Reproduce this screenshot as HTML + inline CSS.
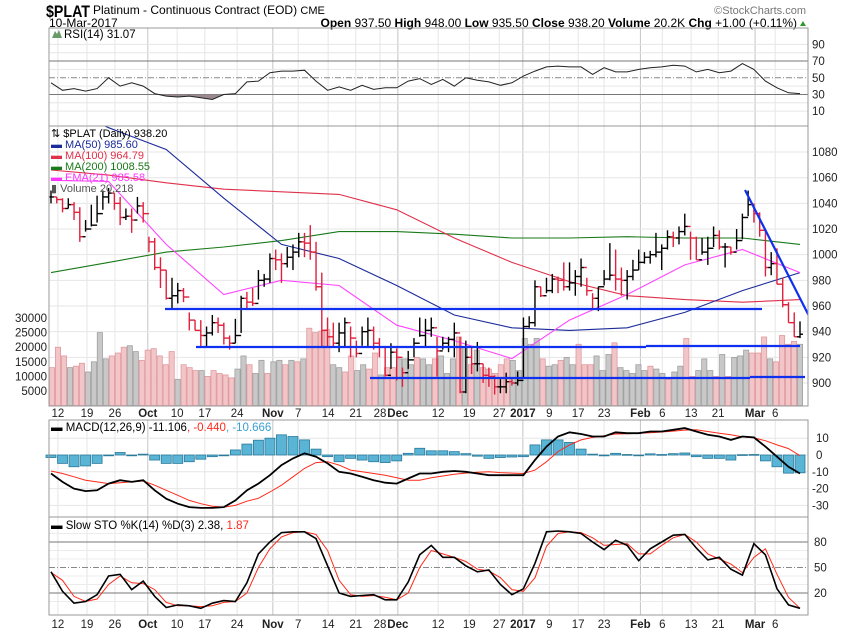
<!DOCTYPE html>
<html><head><meta charset="utf-8">
<style>
html,body{margin:0;padding:0;background:#fff;}
svg{display:block;font-family:"Liberation Sans",sans-serif;}
</style></head>
<body>
<svg id="chart" width="850" height="633" viewBox="0 0 850 633" xmlns="http://www.w3.org/2000/svg">
  <rect x="0" y="0" width="850" height="633" fill="#fff"/>
  <g>
    <text x="46" y="17" font-size="17" font-weight="bold" fill="#000" textLength="44" lengthAdjust="spacingAndGlyphs">$PLAT</text>
    <text x="93" y="14" font-size="12" fill="#000">Platinum - Continuous Contract (EOD) <tspan font-size="11">CME</tspan></text>
    <text x="49" y="27" font-size="12" fill="#000">10-Mar-2017</text>
    <text x="806" y="14" font-size="11" fill="#777" text-anchor="end">©StockCharts.com</text>
    <text x="797" y="27" font-size="12" fill="#000" text-anchor="end"><tspan font-weight="bold">Open</tspan> 937.50 <tspan font-weight="bold">High</tspan> 948.00 <tspan font-weight="bold">Low</tspan> 935.50 <tspan font-weight="bold">Close</tspan> 938.20 <tspan font-weight="bold">Volume</tspan> 20.2K <tspan font-weight="bold">Chg</tspan> +1.00 (+0.11%)</text>
    <polygon points="800,26 806,26 803,21" fill="#2a9a2a"/>
  </g>
  <g id="grid"></g>
  <g id="rsi"></g>
  <g id="price"></g>
  <g id="macd"></g>
  <g id="sto"></g>
  <g id="axes"></g>
</svg>
<script>
// ---------- DATA ----------
const hi = [1050,1045,1044,1044,1041,1037,1027,1039,1046,1050,1052,1048,1045,1036,1036,1045,1041,1014,1013,998,988,982,978,974,955,949,949,944,953,951,947,937,950,968,971,974,988,985,1001,1004,1001,1006,1008,1017,1017,1023,1010,986,951,947,947,951,944,933,944,951,944,935,928,931,927,912,925,935,951,950,951,936,936,936,947,936,933,928,932,915,912,906,903,908,903,909,951,952,980,975,982,985,983,994,994,988,997,982,970,975,988,1009,1004,990,988,996,1004,1002,1003,1017,1008,1019,1018,1022,1032,1018,1014,1013,1014,1022,1019,1009,1006,1020,1032,1050,1040,1033,1019,1002,1005,982,963,955,948];
const lo = [1040,1040,1033,1036,1027,1010,1018,1022,1025,1035,1040,1035,1023,1027,1017,1032,1025,1002,988,974,965,958,962,963,941,941,928,928,937,939,930,926,931,939,958,960,965,975,978,988,978,990,988,998,998,996,972,928,928,928,924,928,920,920,929,928,926,920,905,911,902,897,911,920,936,928,936,905,926,924,920,892,892,907,909,900,897,891,892,892,898,898,904,943,944,967,970,970,970,972,972,968,975,968,957,956,976,980,972,968,965,980,988,993,993,998,988,1004,1006,1008,1015,996,996,1000,992,1006,1004,990,1000,1004,1012,1030,1025,1014,983,984,977,959,947,936,935];
const cl = [1045,1043,1036,1039,1033,1014,1020,1023,1032,1045,1048,1040,1029,1030,1027,1038,1032,1010,990,988,966,968,972,967,949,941,937,939,947,945,935,931,937,966,963,962,980,981,997,996,993,998,1002,1010,1009,1002,975,941,936,931,939,947,935,923,940,941,931,928,906,924,920,908,918,931,937,941,943,925,931,934,939,893,920,915,915,906,905,897,897,901,900,902,944,947,975,968,972,981,980,975,978,983,990,972,966,975,981,984,981,980,983,988,994,998,1000,1002,1005,1014,1013,1018,1022,1013,996,1002,1005,1015,1006,1006,1002,1011,1029,1039,1032,1019,990,993,977,961,947,936,938];
// volume in thousands; volDown 1 = down day (pink), 0 = up day (gray)
const vol = [13,20,17,13,13.5,14.5,11.5,15,25,16,17,18,20,20.5,18.5,15.5,19,19.5,17,14,18.5,9,14,13,12,12,10,12,11,10.5,9.5,12.5,17,14,11,15.5,11,15,15.5,14,15.5,15,16,26.5,25,25.5,26,14,13,11.5,17,12,14,12.5,18,10.5,13,13,16,16,14,16.5,16,
14,16,17,11,16,23.5,20,14,19,13,12.5,11,14,16,15.5,12,23,21,23,16,13.5,14,15.5,16.5,14,21,14,14,17,12,17.5,21.5,13,12,11,14,12,13.5,12.5,11,9,11.5,13.5,23,10,12,16,12,10,17.5,10,16.5,17,19,18,18,23.5,16,15,24,21,22,21];
const volDown = [1,1,1,0,1,1,0,0,0,0,1,1,1,0,0,1,1,1,1,1,1,0,1,1,1,0,1,1,1,1,1,0,0,1,0,0,1,0,0,1,0,1,0,1,1,1,1,0,0,1,1,0,0,1,1,0,1,1,0,0,0,1,0,
0,1,0,0,0,1,0,1,0,1,1,1,1,1,0,0,0,0,0,1,0,0,1,0,0,1,1,1,0,0,0,1,0,0,0,0,0,1,0,0,1,0,0,1,1,0,0,0,1,0,1,0,0,0,1,1,1,0,1,1,1,1,0];
// moving averages sampled every 10 bars
const ma50  = [1120,1099,1082,1044,1008,997,976,953,943,941,943,955,972,986];
const ma100 = [1066,1062,1056,1051,1049,1047,1035,1013,994,979,968,965,963,965];
const ma200 = [986,994,1002,1006,1011,1018,1018,1016,1013,1013,1014,1013,1013,1008];
const ema21 = [1058,1057,1008,969,980,976,945,933,919,949,969,992,1004,986];
// oscillators sampled every 2 bars
const rsi = [44,35,37,34,37,50,40,44,40,31,28,27,28,26,24,30,31,45,46,56,58,58,59,46,35,39,35,41,36,38,38,46,49,42,48,40,50,47,45,41,44,52,58,63,64,63,63,54,62,57,57,60,62,63,65,64,57,60,56,58,67,60,46,38,32,31];
const macdLine = [-11,-16,-20,-21.5,-21,-17,-15,-16,-15,-21,-26,-29,-31,-31.5,-31.5,-31,-27,-21,-17,-12,-6,-2,1,-1,-5,-10,-11,-13,-15,-16.5,-17,-14,-11,-11,-10,-9.5,-10,-11,-12,-12,-12,-12,-3,5,11,13.5,12.5,11,11,13.5,13,13,14,14,15,16,14,12,11,9,11,10.5,5,-1,-7,-11];
const macdSignal = [-9.5,-11,-13,-15,-16,-17,-16.5,-16,-15.5,-18,-21,-24,-27,-29,-30.5,-31,-30,-27.5,-25.8,-22,-18,-13,-8,-4.5,-4,-6,-9,-10,-11,-12,-13.5,-15,-15,-13.5,-12.5,-11.5,-10.8,-10.3,-10,-10.5,-10.8,-11,-9,-4,2,6,9,10.5,11.5,12.5,12.7,13,13.3,13.7,14.2,14.8,15,14,13,12,10.8,10.2,8.5,6,3.8,-0.4];
const stoK = [45,22,8,10,18,40,42,24,34,16,3,6,5,2,8,11,10,32,66,80,91,92,92,84,52,20,16,17,18,12,12,33,65,76,62,62,52,45,47,30,18,25,55,92,93,92,90,80,71,82,76,58,72,80,88,89,73,59,62,48,41,78,65,25,6,2];
const stoD = [44,35,16,10,13,30,40,32,31,24,9,5,5,4,5,9,10,20,50,72,86,91,92,89,70,35,18,16,17,15,12,20,50,70,66,62,57,48,46,38,24,22,38,75,90,92,91,85,76,77,78,66,66,76,85,89,80,66,60,54,44,62,72,42,15,2];
// date axis ticks (bar index) and labels
const tickIdx = [1.2,6.25,11.1,16.8,21.9,26.7,32.3,38.5,42.9,48.1,52.9,57.1,60.2,67.2,72.6,77.8,81.9,86.5,91.5,96,102.3,106.1,111.1,115.8,122.2,125.7];
const tickLbl = ["12","19","26","Oct","10","17","24","Nov","7","14","21","28","Dec","12","19","27","2017","9","17","23","Feb","6","13","21","Mar","6"];
const tickMonth = [0,0,0,1,0,0,0,1,0,0,0,0,1,0,0,0,1,0,0,0,1,0,0,0,1,0];
const priceTicks = [1080,1060,1040,1020,1000,980,960,940,920,900];
const volTicks = [30000,25000,20000,15000,10000,5000];
const rsiTicks = [90,70,50,30,10];
const macdTicks = [10,0,-10,-20,-30];
const stoTicks = [80,50,20];

// ---------- SCALES ----------
const PL = 49, PR = 808, X0 = 51, X1 = 800;
const xP = i => X0 + i * (X1 - X0) / (cl.length - 1);
const xV = i => 52 + i * (800 - 52) / (vol.length - 1);
const xMA = k => X0 + k * (X1 - X0) / (ma50.length - 1);
const xO = k => X0 + k * (X1 - X0) / (rsi.length - 1);
const yP = p => 306 - (p - 960) * 1.283;
const yV = v => 405.6 - v * 2.92;
const yR = v => 119.5 - 0.835 * v;
const yM = v => 455 - 1.68 * v;
const yS = v => 610 - 0.85 * v;
const NS = "http://www.w3.org/2000/svg";
function mk(parent, tag, attrs) {
  const e = document.createElementNS(NS, tag);
  for (const k in attrs) e.setAttribute(k, attrs[k]);
  parent.appendChild(e);
  return e;
}
const gGrid = document.getElementById('grid');
const gR = document.getElementById('rsi');
const gP = document.getElementById('price');
const gM = document.getElementById('macd');
const gS = document.getElementById('sto');
const gA = document.getElementById('axes');
const panels = [[28,126],[126,406],[420,517],[517,615]];

const defs = mk(document.getElementById('chart'), 'defs', {});
const cp = mk(defs, 'clipPath', {id: 'clipP'});
mk(cp, 'rect', {x: PL, y: 126, width: PR - PL, height: 280});
const cr = mk(defs, 'clipPath', {id: 'clipR30'});
mk(cr, 'rect', {x: PL, y: yR(30), width: PR - PL, height: 126 - yR(30)});

tickIdx.forEach((t, i) => {
  panels.forEach(pn => {
    const l = mk(gGrid, 'line', {x1: xP(t), x2: xP(t), y1: pn[0], y2: pn[1], stroke: tickMonth[i] ? '#c4c4c4' : '#e6e6e6', 'stroke-width': 1});
    
    
  });
});
priceTicks.forEach(p => {
  const l = mk(gGrid, 'line', {x1: PL, x2: PR, y1: yP(p), y2: yP(p), stroke: '#e6e6e6'});
  
  
});
for (let v = 10; v <= 90; v += 10) {
  const dark = (v === 30 || v === 70);
  const l = mk(gGrid, 'line', {x1: PL, x2: PR, y1: yR(v), y2: yR(v), stroke: dark ? '#777' : (v === 50 ? '#888' : '#e6e6e6'), 'stroke-dasharray': v === 50 ? '6,2,1,2' : 'none'});
  
  
}
macdTicks.forEach(v => {
  const l = mk(gGrid, 'line', {x1: PL, x2: PR, y1: yM(v), y2: yM(v), stroke: '#e6e6e6'});
  
  
});
for (let v = 10; v <= 90; v += 10) {
  const dark = (v === 20 || v === 80);
  const l = mk(gGrid, 'line', {x1: PL, x2: PR, y1: yS(v), y2: yS(v), stroke: dark ? '#777' : (v === 50 ? '#888' : '#ececec'), 'stroke-dasharray': v === 50 ? '6,2,1,2' : 'none'});
  
  
}

// ---------- RSI ----------
const rPts = rsi.map((v, k) => xO(k).toFixed(1) + ',' + yR(v).toFixed(1));
const rFill = mk(gR, 'polygon', {points: xO(0) + ',' + yR(30) + ' ' + rPts.join(' ') + ' ' + xO(rsi.length - 1) + ',' + yR(30), fill: '#9a8a90', 'clip-path': 'url(#clipR30)'});


const rLine = mk(gR, 'polyline', {points: rPts.join(' '), fill: 'none', stroke: '#222', 'stroke-width': 1});



// ---------- PRICE / VOLUME ----------
vol.forEach((v, i) => {
  const r = mk(gP, 'rect', {x: xV(i) - 2.6, y: yV(v), width: 5.2, height: 405.6 - yV(v), fill: volDown[i] ? '#f2c6c8' : '#c8c8c8', stroke: volDown[i] ? '#e09a9e' : '#a0a0a0', 'stroke-width': 0.8});
  
  
});
function maLine(arr, color) {
  return mk(gP, 'polyline', {points: arr.map((v, k) => xMA(k).toFixed(1) + ',' + yP(v).toFixed(1)).join(' '), fill: 'none', stroke: color, 'stroke-width': 1.1, 'clip-path': 'url(#clipP)'});
}
const l200 = maLine(ma200, '#1a7a1a');


const l100 = maLine(ma100, '#e0304a');


const l50 = maLine(ma50, '#1a2a9a');


const l21 = maLine(ema21, '#ff44ff');


cl.forEach((c, i) => {
  const o = i > 0 ? cl[i - 1] : c;
  const down = i > 0 && c < cl[i - 1];
  const col = down ? '#e0203c' : '#000';
  const x = xP(i);
  const g = mk(gP, 'g', {stroke: col, 'stroke-width': 1.4, 'clip-path': 'url(#clipP)'});
  
  
  mk(g, 'line', {x1: x, x2: x, y1: yP(hi[i]), y2: yP(lo[i])});
  mk(g, 'line', {x1: x - 3, x2: x, y1: yP(o), y2: yP(o)});
  mk(g, 'line', {x1: x, x2: x + 3, y1: yP(c), y2: yP(c)});
});
const tl = [[165,309,762,309],[196,347,646,347],[646,346,800,346],[370,378,750,378],[750,377,805,377],[745,190,810,318]];
tl.forEach(t => {
  const l = mk(gP, 'line', {x1: t[0], y1: t[1], x2: t[2], y2: t[3], stroke: '#1030f0', 'stroke-width': 2.2, 'clip-path': 'url(#clipP)'});
  
  
});
const legend = [["⇅ $PLAT (Daily) 938.20", '#000'], ["▬ MA(50) 985.60", '#1a2a9a'], ["▬ MA(100) 964.79", '#e0304a'], ["▬ MA(200) 1008.55", '#1a7a1a'], ["▬ EMA(21) 985.58", '#ff33ff'], ["▮ Volume 20,218", '#555']];
legend.forEach((l, i) => {
  const t = mk(gP, 'text', {x: 51, y: 137 + i * 11, 'font-size': 11, fill: l[1]});
  t.textContent = l[0];
  
  
});

// ---------- MACD ----------
macdLine.forEach((m, k) => {
  const h = m - macdSignal[k];
  const y0 = yM(0), y1 = yM(h);
  const r = mk(gM, 'rect', {x: xO(k) - 5, y: Math.min(y0, y1), width: 10, height: Math.max(0.8, Math.abs(y1 - y0)), fill: '#5ab4d6', stroke: '#2a7a9a', 'stroke-width': 0.8});
  
  
});
const mSig = mk(gM, 'polyline', {points: macdSignal.map((v, k) => xO(k).toFixed(1) + ',' + yM(v).toFixed(1)).join(' '), fill: 'none', stroke: '#ff2a1a', 'stroke-width': 1});


const mLn = mk(gM, 'polyline', {points: macdLine.map((v, k) => xO(k).toFixed(1) + ',' + yM(v).toFixed(1)).join(' '), fill: 'none', stroke: '#000', 'stroke-width': 1.8});



// ---------- STO ----------
const sD = mk(gS, 'polyline', {points: stoD.map((v, k) => xO(k).toFixed(1) + ',' + yS(v).toFixed(1)).join(' '), fill: 'none', stroke: '#ff2a1a', 'stroke-width': 1});


const sK = mk(gS, 'polyline', {points: stoK.map((v, k) => xO(k).toFixed(1) + ',' + yS(v).toFixed(1)).join(' '), fill: 'none', stroke: '#000', 'stroke-width': 1.6});



// ---------- AXES / FRAMES ----------
panels.forEach(pn => {
  const r = mk(gA, 'rect', {x: PL, y: pn[0], width: PR - PL, height: pn[1] - pn[0], fill: 'none', stroke: '#999', 'stroke-width': 1});
  
  
});
function rlabel(txt, y, name, x, anchor) {
  const t = mk(gA, 'text', {x: x, y: y + 4, 'font-size': 11.5, fill: '#222', 'text-anchor': anchor});
  t.textContent = txt;
  
  
}
rsiTicks.forEach(v => rlabel(String(v), yR(v), 'rsi-axis-label', 812, 'start'));
priceTicks.forEach(v => rlabel(String(v), yP(v), 'price-axis-label', 812, 'start'));
volTicks.forEach(v => rlabel(String(v), yV(v / 1000), 'volume-axis-label', 47, 'end'));
macdTicks.forEach(v => rlabel(String(v), yM(v), 'macd-axis-label', v < 0 ? 812 : 816, 'start'));
stoTicks.forEach(v => rlabel(String(v), yS(v), 'sto-axis-label', 814, 'start'));
[417, 628].forEach(yy => {
  tickIdx.forEach((t, i) => {
    const tx = mk(gA, 'text', {x: xP(t), y: yy, 'font-size': 11.5, 'font-weight': tickMonth[i] ? 'bold' : 'normal', fill: '#222', 'text-anchor': 'middle'});
    tx.textContent = tickLbl[i];
    
    
  });
});
const rt = mk(gR, 'text', {x: 64, y: 38, 'font-size': 11.5, fill: '#000'});
rt.textContent = 'RSI(14) 31.07';


const ri = mk(gR, 'polygon', {points: '52,38 55,31 57,34 59,30 62,38', fill: '#6a9a6a'});


const mt = mk(gM, 'text', {x: 51, y: 431, 'font-size': 11.5, fill: '#000'});
mt.innerHTML = '▬ MACD(12,26,9) -11.106<tspan fill="#ff2a1a">, -0.440</tspan><tspan fill="#3aa0d0">, -10.666</tspan>';


const st = mk(gS, 'text', {x: 51, y: 529, 'font-size': 11.5, fill: '#000'});
st.innerHTML = '▬ Slow STO %K(14) %D(3) 2.38, <tspan fill="#ff2a1a">1.87</tspan>';


</script>
</body></html>
